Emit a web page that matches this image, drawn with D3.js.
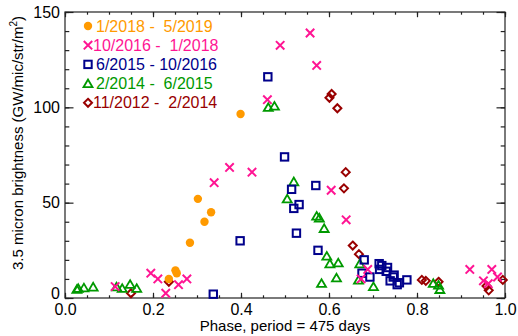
<!DOCTYPE html>
<html>
<head>
<meta charset="utf-8">
<script src="https://cdn.jsdelivr.net/npm/d3@7"></script>
<style>
  body { margin: 0; background: #fff; }
  svg { display: block; font-family: "Liberation Sans", Arial, Helvetica, sans-serif; }
  text { white-space: pre; }
</style>
</head>
<body>
<svg id="chart" width="518" height="336"></svg>
<script>
// [phase, brightness] pairs
const orange2018 = [[0.236, 10], [0.251, 14.5], [0.254, 13], [0.284, 29], [0.302, 52], [0.317, 40], [0.332, 45], [0.399, 96.5]];
const magenta2016 = [[0.114, 6], [0.195, 13], [0.211, 10], [0.229, 2.5], [0.258, 7], [0.277, 10], [0.339, 60.5], [0.374, 68.5],
  [0.425, 66], [0.460, 104], [0.489, 132.5], [0.557, 139], [0.572, 122], [0.605, 56.5], [0.639, 41], [0.673, 10], [0.688, 15],
  [0.920, 15], [0.951, 9], [0.962, 7.5], [0.970, 15], [0.983, 11]];
const navy2015 = [[0.337, 2], [0.398, 30], [0.461, 116], [0.499, 74], [0.515, 57], [0.520, 47], [0.526, 34], [0.532, 49],
  [0.570, 59], [0.575, 25], [0.675, 13], [0.680, 20], [0.693, 11], [0.714, 18], [0.715, 15], [0.720, 17], [0.730, 14],
  [0.733, 16], [0.739, 9], [0.746, 11], [0.748, 12], [0.755, 7], [0.760, 8], [0.777, 9.5]];
const green2014 = [[0.027, 4.6], [0.030, 5.1], [0.043, 5.4], [0.064, 5.8], [0.117, 5.9], [0.130, 5.1], [0.148, 7.2], [0.163, 5.1],
  [0.462, 100], [0.476, 100.7], [0.505, 52], [0.520, 61], [0.572, 43], [0.578, 42], [0.583, 7.7], [0.589, 36.5], [0.595, 22],
  [0.602, 18], [0.617, 10.6], [0.621, 18.5], [0.667, 9.4], [0.670, 18], [0.701, 6], [0.837, 7.7], [0.849, 6.8], [0.852, 4.5]];
const red2012 = [[0.150, 2.5], [0.236, 8.5], [0.601, 105], [0.606, 107], [0.619, 99.5], [0.634, 57.5], [0.638, 66],
  [0.654, 27.5], [0.668, 23], [0.811, 9.5], [0.820, 9], [0.849, 8.5], [0.958, 6.3], [0.963, 4], [0.995, 9.5]];

const seriesNames = ['1/2018 -  5/2019', '10/2016 -  1/2018', '6/2015 - 10/2016', '2/2014 -  6/2015', '11/2012 -  2/2014'];
const seriesColors = ['#ff9a00', '#ff1493', '#00008b', '#009900', '#990000'];
const seriesShapes = ['circle', 'cross', 'square', 'triangle', 'diamond'];
const seriesData = [orange2018, magenta2016, navy2015, green2014, red2012];

const xTicks = [0, 0.2, 0.4, 0.6, 0.8, 1.0];
const yTicks = [0, 50, 100, 150];

const svg = d3.select('#chart');
const pLeft = 65, pRight = 505, pTop = 12, pBottom = 298;

const x = d3.scaleLinear().domain([0, 1]).range([pLeft, pRight]);
const y = d3.scaleLinear().domain([0, 150]).range([pBottom, pTop]);

const xMinor = d3.range(0, 1.0001, 0.05);
const yMinor = d3.range(0, 150.1, 10);

function styleAxis(g) {
  g.select('.domain').remove();
  g.selectAll('line').attr('stroke', '#222').attr('stroke-width', 1.2);
  g.selectAll('text').attr('fill', '#000').style('font-size', '16px');
}

// bottom axis: minor + major, ticks inward
svg.append('g').attr('transform', `translate(0,${pBottom})`)
  .call(d3.axisBottom(x).tickValues(xMinor).tickSize(-2.7).tickFormat(''))
  .call(styleAxis);
svg.append('g').attr('transform', `translate(0,${pBottom})`)
  .call(d3.axisBottom(x).tickValues(xTicks).tickSize(-5.2).tickPadding(6).tickFormat(d3.format('.1f')))
  .call(styleAxis);

// top axis
svg.append('g').attr('transform', `translate(0,${pTop})`)
  .call(d3.axisTop(x).tickValues(xMinor).tickSize(-2.7).tickFormat(''))
  .call(styleAxis);
svg.append('g').attr('transform', `translate(0,${pTop})`)
  .call(d3.axisTop(x).tickValues(xTicks).tickSize(-5.2).tickFormat(''))
  .call(styleAxis);

// left axis
svg.append('g').attr('transform', `translate(${pLeft},0)`)
  .call(d3.axisLeft(y).tickValues(yMinor).tickSize(-4.3).tickFormat(''))
  .call(styleAxis);
svg.append('g').attr('transform', `translate(${pLeft},0)`)
  .call(d3.axisLeft(y).tickValues(yTicks).tickSize(-8.5).tickPadding(5).tickFormat(d3.format('d')))
  .call(styleAxis)
  .call(g => g.selectAll('text').filter(d => d === 0).attr('dy', '0.05em'));

// right axis
svg.append('g').attr('transform', `translate(${pRight},0)`)
  .call(d3.axisRight(y).tickValues(yMinor).tickSize(-4.3).tickFormat(''))
  .call(styleAxis);
svg.append('g').attr('transform', `translate(${pRight},0)`)
  .call(d3.axisRight(y).tickValues(yTicks).tickSize(-8.5).tickFormat(''))
  .call(styleAxis);

// frame
svg.append('rect')
  .attr('x', pLeft).attr('y', pTop)
  .attr('width', pRight - pLeft).attr('height', pBottom - pTop)
  .attr('fill', 'none').attr('stroke', '#222').attr('stroke-width', 1.2);

// axis titles
svg.append('text')
  .attr('x', (pLeft + pRight) / 2).attr('y', 331)
  .attr('text-anchor', 'middle')
  .style('font-size', '15px')
  .text('Phase, period = 475 days');

const yt = svg.append('text')
  .attr('transform', 'translate(23,143) rotate(-90)')
  .attr('text-anchor', 'middle')
  .style('font-size', '15px');
yt.append('tspan').text('3.5 micron brightness (GW/mic/str/m');
yt.append('tspan').attr('dy', -6).style('font-size', '10px').text('2');
yt.append('tspan').attr('dy', 6).text(')');

// marker drawing
function drawMarker(g, shape, color, cx, cy) {
  if (shape === 'circle') {
    g.append('circle').attr('cx', cx).attr('cy', cy).attr('r', 4.2).attr('fill', color);
  } else if (shape === 'cross') {
    const s = 4.2;
    g.append('path')
      .attr('d', `M${cx - s},${cy - s}L${cx + s},${cy + s}M${cx - s},${cy + s}L${cx + s},${cy - s}`)
      .attr('stroke', color).attr('stroke-width', 2).attr('fill', 'none');
  } else if (shape === 'square') {
    const s = 3.7;
    g.append('rect').attr('x', cx - s).attr('y', cy - s).attr('width', 2 * s).attr('height', 2 * s)
      .attr('stroke', color).attr('stroke-width', 2).attr('fill', 'none');
  } else if (shape === 'triangle') {
    const s = 4.5;
    g.append('path')
      .attr('d', `M${cx - s},${cy + s * 0.8}L${cx + s},${cy + s * 0.8}L${cx},${cy - s * 0.9}Z`)
      .attr('stroke', color).attr('stroke-width', 1.8).attr('fill', 'none');
  } else {
    const s = 4;
    g.append('path')
      .attr('d', `M${cx},${cy - s}L${cx + s},${cy}L${cx},${cy + s}L${cx - s},${cy}Z`)
      .attr('stroke', color).attr('stroke-width', 2).attr('fill', 'none');
  }
}

const marks = svg.append('g');
for (let i = seriesData.length - 1; i >= 0; i--) {
  seriesData[i].forEach(d => drawMarker(marks, seriesShapes[i], seriesColors[i], x(d[0]), y(d[1])));
}

// legend
const legend = svg.append('g');
seriesNames.forEach((name, i) => {
  const ly = 26 + i * 19.2;
  drawMarker(legend, seriesShapes[i], seriesColors[i], 88, ly);
  legend.append('text')
    .attr('x', i === 1 || i === 4 ? 93 : 96).attr('y', ly + 5.5)
    .attr('fill', seriesColors[i])
    .style('font-size', '16px')
    .text(name);
});
</script>
</body>
</html>
